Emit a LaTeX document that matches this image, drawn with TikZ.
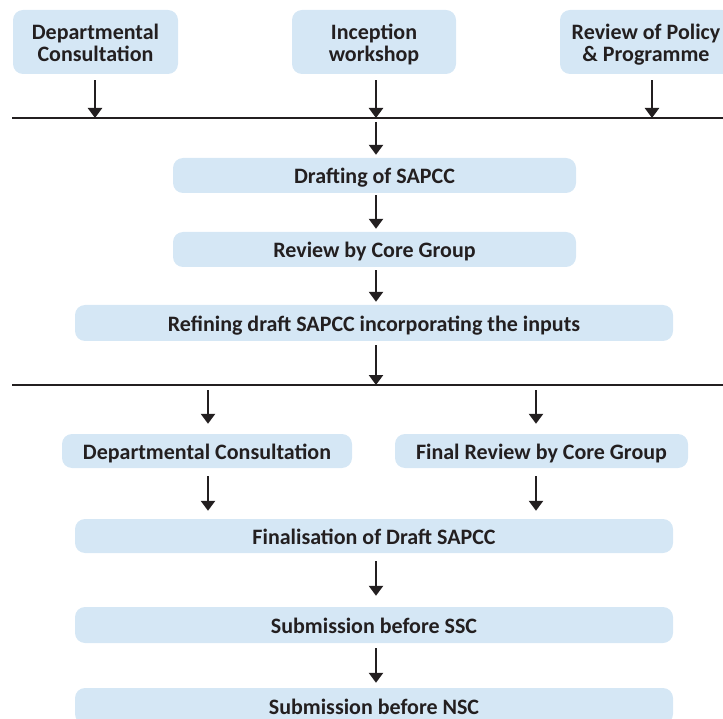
\documentclass[tikz,border=0pt]{standalone}
\usepackage{fontspec}
\setmainfont{Carlito}
\usetikzlibrary{arrows.meta}
\definecolor{boxblue}{HTML}{D5E7F5}
\definecolor{ink}{HTML}{231F20}
\tikzset{
  box/.style={fill=boxblue, rounded corners=10pt, inner sep=0pt, align=center,
    font=\bfseries\fontsize{22}{22}\selectfont, text=ink, text height=17pt, text depth=0pt},
  tall/.style={text height=40pt},
  arr/.style={draw=ink, line width=2.4pt, -{Triangle[width=14pt,length=10pt]}},
  bar/.style={draw=ink, line width=2.4pt}
}
\begin{document}
\begin{tikzpicture}[x=1pt,y=-1pt]
\useasboundingbox (0,0) rectangle (723,719);
\clip (0,0) rectangle (723,719);
% top boxes
\node[box, tall, minimum width=165pt, minimum height=64pt] (t1) at (95.5,42) {Departmental\\Consultation};
\node[box, tall, minimum width=164pt, minimum height=64pt] (t2) at (374,42) {Inception\\workshop};
\node[box, tall, minimum width=172pt, minimum height=64pt] (t3) at (646,42) {Review of Policy\\\& Programme};
% line 1
\coordinate (l1a) at (12,118);
\coordinate (l1b) at (723,118);
\draw[bar] (l1a) -- (l1b);
\coordinate (a1) at (95,118);
\coordinate (a2) at (376,118);
\coordinate (a3) at (652,118);
\draw[arr] ([yshift=-6pt]t1.south -| a1) -- (a1);
\draw[arr] ([yshift=-6pt]t2.south -| a2) -- (a2);
\draw[arr] ([yshift=-6pt]t3.south -| a3) -- (a3);
% middle chain
\node[box, minimum width=403pt, minimum height=35pt] (d1) at (374.5,175.5) {Drafting of SAPCC};
\node[box, minimum width=403pt, minimum height=35pt] (d2) at (374.5,249.5) {Review by Core Group};
\node[box, minimum width=598pt, minimum height=36pt] (d3) at (374,323) {Refining draft SAPCC incorporating the inputs};
\draw[arr] ([yshift=-4pt]a2) -- ([yshift=3pt]d1.north -| a2);
\draw[arr] ([yshift=-2pt]d1.south -| a2) -- ([yshift=3pt]d2.north -| a2);
\draw[arr] ([yshift=-3pt]d2.south -| a2) -- ([yshift=3pt]d3.north -| a2);
% line 2
\coordinate (l2a) at (12,385);
\coordinate (l2b) at (723,385);
\draw[bar] (l2a) -- (l2b);
\coordinate (m) at (376,385);
\draw[arr] ([yshift=-4pt]d3.south -| m) -- (m);
% split
\node[box, minimum width=290pt, minimum height=34pt] (s1) at (207,451) {Departmental Consultation};
\node[box, minimum width=293pt, minimum height=34pt] (s2) at (541.5,451) {Final Review by Core Group};
\coordinate (b1) at (208,385);
\coordinate (b2) at (536,385);
\draw[arr] ([yshift=-5pt]b1) -- ([yshift=10pt]s1.north -| b1);
\draw[arr] ([yshift=-5pt]b2) -- ([yshift=10pt]s2.north -| b2);
% lower chain
\node[box, minimum width=598pt, minimum height=34pt] (f1) at (374,536) {Finalisation of Draft SAPCC};
\node[box, minimum width=598pt, minimum height=36pt] (f2) at (374,625) {Submission before SSC};
\node[box, minimum width=598pt, minimum height=36pt] (f3) at (374,706) {Submission before NSC};
\draw[arr] ([yshift=-8pt]s1.south -| b1) -- ([yshift=8pt]f1.north -| b1);
\draw[arr] ([yshift=-8pt]s2.south -| b2) -- ([yshift=8pt]f1.north -| b2);
\draw[arr] ([yshift=-8pt]f1.south -| m) -- ([yshift=11pt]f2.north -| m);
\draw[arr] ([yshift=-5pt]f2.south -| m) -- ([yshift=5pt]f3.north -| m);
\end{tikzpicture}
\end{document}
